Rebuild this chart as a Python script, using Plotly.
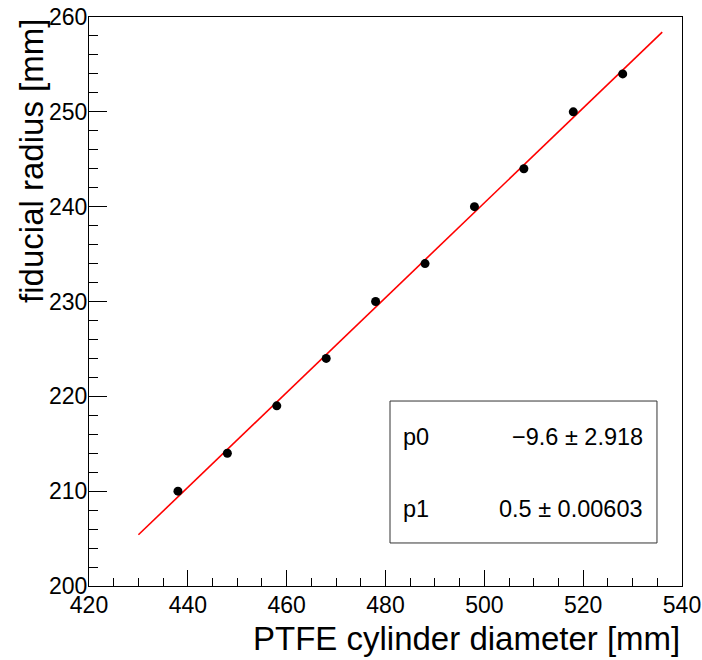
import plotly.graph_objects as go

# Data: PTFE cylinder diameter vs fiducial radius
diameter = [438, 448, 458, 468, 478, 488, 498, 508, 518, 528]
fid_radius = [210, 214, 219, 224, 230, 234, 240, 244, 250, 254]

# Linear fit results (pol1) and fit range
p0, p0_err = -9.6, 2.918
p1, p1_err = 0.5, 0.00603
fit_range = [430, 536]

FONT = "Liberation Sans, Arial, sans-serif"

fig = go.Figure()

# Fit line
fit_y = [p0 + p1 * x for x in fit_range]
fig.add_trace(go.Scatter(x=fit_range, y=fit_y, mode="lines",
                         line=dict(color="#ff0000", width=1.6), showlegend=False))

# Data points
fig.add_trace(go.Scatter(x=diameter, y=fid_radius, mode="markers",
                         marker=dict(color="black", size=9), showlegend=False))

axis_common = dict(
    showline=True, linecolor="black", linewidth=1, mirror=True,
    showgrid=False, zeroline=False, automargin=False,
    ticks="inside", tickcolor="black", tickwidth=1,
    tickfont=dict(family=FONT, size=23, color="black"),
)

fig.update_xaxes(range=[420, 540], dtick=20, tick0=420, ticklen=16,
                 ticklabelstandoff=-2,
                 minor=dict(dtick=5, ticklen=8, ticks="inside", tickcolor="black"),
                 **axis_common)
fig.update_yaxes(range=[200, 260], dtick=10, tick0=200, ticklen=18,
                 ticklabelstandoff=-4,
                 minor=dict(dtick=2, ticklen=9, ticks="inside", tickcolor="black"),
                 **axis_common)

# Axis titles (ROOT style: aligned to the end of the axis)
fig.add_annotation(text="PTFE cylinder diameter [mm]", xref="paper", yref="paper",
                   x=1.0, y=-0.093, xanchor="right", yanchor="middle", showarrow=False,
                   font=dict(family=FONT, size=33, color="black"))
fig.add_annotation(text="fiducial radius [mm]", xref="paper", yref="paper",
                   x=-0.098, y=1.0, xanchor="center", yanchor="top", showarrow=False,
                   textangle=-90, font=dict(family=FONT, size=33, color="black"))

# Stats box
fig.add_shape(type="rect", xref="paper", yref="paper",
              x0=0.5076, x1=0.9578, y0=0.0756, y1=0.3251,
              line=dict(color="#333333", width=1), fillcolor="white", layer="above")
stats = [("p0", "\u22129.6 \u00b1 2.918", 0.262), ("p1", "0.5 \u00b1 0.00603", 0.135)]
for name, val, yy in stats:
    fig.add_annotation(text=name, xref="paper", yref="paper", x=0.526, y=yy,
                       xanchor="left", yanchor="middle", showarrow=False,
                       font=dict(family=FONT, size=23.5, color="black"))
    fig.add_annotation(text=val, xref="paper", yref="paper", x=0.937, y=yy,
                       xanchor="right", yanchor="middle", showarrow=False,
                       font=dict(family=FONT, size=23.5, color="black"))

fig.update_layout(
    width=702, height=660,
    margin=dict(l=89, r=20, t=17, b=74),
    paper_bgcolor="white", plot_bgcolor="white",
    showlegend=False,
)

# drop the default page margin so the figure sits at the window corner
fig.write_html("out.html", config={"displayModeBar": False},
               post_script="document.body.style.margin='0';")
